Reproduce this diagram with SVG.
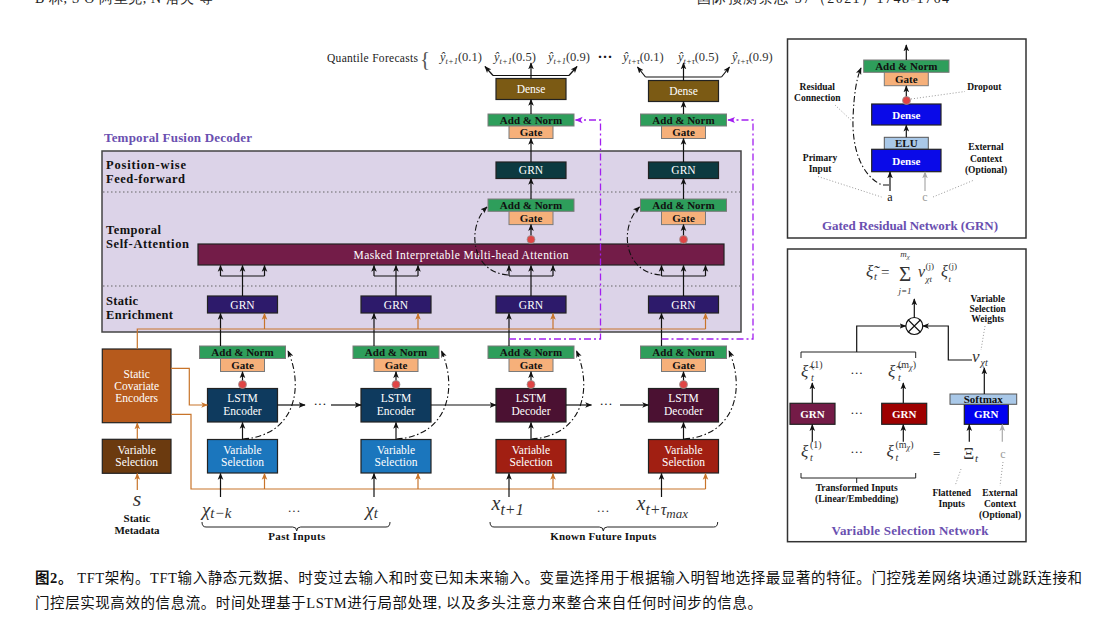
<svg xmlns="http://www.w3.org/2000/svg" width="1098" height="633" viewBox="0 0 1098 633">
<defs>
<style>
text{font-family:"Liberation Serif","DejaVu Serif",serif}
.m{text-anchor:middle}
.an{fill:#2e9e5b;stroke:#7a7a7a;stroke-width:1}
.gt{fill:#f6b07a;stroke:#7a7a7a;stroke-width:1}
.lb{font-size:11px;font-weight:bold;fill:#111;text-anchor:middle}
.wl{font-size:11.5px;fill:#fff;text-anchor:middle}
.wb{font-size:11px;font-weight:bold;fill:#fff;text-anchor:middle}
.bx{stroke:#222;stroke-width:1.2}
.ln{fill:none;stroke:#111;stroke-width:1.2}
.ar{marker-end:url(#ah)}
.or{fill:none;stroke:#c8742a;stroke-width:1.2}
.ao{marker-end:url(#ao)}
.dd{fill:none;stroke:#111;stroke-width:1.1;stroke-dasharray:6 2.5 1.5 2.5;marker-end:url(#ah)}
.pp{fill:none;stroke:#a31ff0;stroke-width:1.3;stroke-dasharray:7 3 2 3;marker-end:url(#ap)}
.dot{fill:#e04545;stroke:#999;stroke-width:0.8}
.sep{stroke:#666;stroke-width:1;stroke-dasharray:1.5 2.5}
.mt{font-style:italic;fill:#333}
.gl{fill:none;stroke:#999;stroke-width:1;stroke-dasharray:1 2}
.sl{font-size:9.5px;font-weight:bold;fill:#111;text-anchor:middle}
.rl{font-size:12.5px;font-weight:bold;fill:#111}
.ttl{font-size:13px;font-weight:bold;fill:#6a4fb0}
.gy{fill:none;stroke:#aaa;stroke-width:1.2;marker-end:url(#ag)}
.q{font-size:12.5px;fill:#333}
.cap{font-family:"Liberation Serif","Noto Sans CJK SC",sans-serif;font-size:14.5px;fill:#111}
</style>
<marker id="ah" viewBox="0 0 10 10" refX="9" refY="5" markerWidth="7" markerHeight="7" orient="auto" markerUnits="userSpaceOnUse"><path d="M0,1 L10,5 L0,9 L2.5,5 z" fill="#111"/></marker>
<marker id="ao" viewBox="0 0 10 10" refX="9" refY="5" markerWidth="7" markerHeight="7" orient="auto" markerUnits="userSpaceOnUse"><path d="M0,1 L10,5 L0,9 L2.5,5 z" fill="#c8742a"/></marker>
<marker id="ap" viewBox="0 0 10 10" refX="9" refY="5" markerWidth="8" markerHeight="8" orient="auto" markerUnits="userSpaceOnUse"><path d="M0,1 L10,5 L0,9 L2.5,5 z" fill="#a31ff0"/></marker>
<marker id="ag" viewBox="0 0 10 10" refX="9" refY="5" markerWidth="7" markerHeight="7" orient="auto" markerUnits="userSpaceOnUse"><path d="M0,1 L10,5 L0,9 L2.5,5 z" fill="#aaa"/></marker>
</defs>
<rect width="1098" height="633" fill="#fff"/>

<g id="header">
<text x="35" y="3" font-family="'Liberation Serif','Noto Sans CJK SC',sans-serif" font-size="14" fill="#222" textLength="178">B 林, S Ö 阿里克, N 洛夫 等</text>
<text x="697" y="3" font-family="'Liberation Serif','Noto Sans CJK SC',sans-serif" font-size="14" fill="#222" textLength="252">国际预测杂志 37（2021）1748-1764</text>
</g>

<g id="tfd-frame">
<text x="104" y="142" class="ttl" textLength="148">Temporal Fusion Decoder</text>
<rect x="102" y="151" width="639" height="181" fill="#dcd3e8" stroke="#444" stroke-width="1.5"/>
<line x1="103" y1="192" x2="740" y2="192" class="sep"/>
<line x1="103" y1="286" x2="740" y2="286" class="sep"/>
<text x="106" y="169" class="rl" textLength="80">Position-wise</text>
<text x="106" y="183" class="rl" textLength="79">Feed-forward</text>
<text x="106" y="234" class="rl" textLength="55">Temporal</text>
<text x="106" y="248" class="rl" textLength="83">Self-Attention</text>
<text x="106" y="305" class="rl" textLength="32">Static</text>
<text x="106" y="319" class="rl" textLength="67">Enrichment</text>
</g>

<g id="quantiles">
<text x="327" y="62" font-size="11.5" fill="#222" textLength="91">Quantile Forecasts</text>
<text x="420" y="66" font-size="21" fill="#555">{</text>
<text x="440" y="61" class="q"><tspan font-style="italic">ŷ</tspan><tspan font-size="8.5" dy="2.5" font-style="italic">t+1</tspan><tspan dy="-2.5">(0.1)</tspan></text>
<text x="494" y="61" class="q"><tspan font-style="italic">ŷ</tspan><tspan font-size="8.5" dy="2.5" font-style="italic">t+1</tspan><tspan dy="-2.5">(0.5)</tspan></text>
<text x="548" y="61" class="q"><tspan font-style="italic">ŷ</tspan><tspan font-size="8.5" dy="2.5" font-style="italic">t+1</tspan><tspan dy="-2.5">(0.9)</tspan></text>
<text x="605" y="62" font-size="15" font-weight="bold" fill="#111" class="m">···</text>
<text x="623" y="61" class="q"><tspan font-style="italic">ŷ</tspan><tspan font-size="8.5" dy="2.5" font-style="italic">t+τ</tspan><tspan dy="-2.5">(0.1)</tspan></text>
<text x="678" y="61" class="q"><tspan font-style="italic">ŷ</tspan><tspan font-size="8.5" dy="2.5" font-style="italic">t+τ</tspan><tspan dy="-2.5">(0.5)</tspan></text>
<text x="732" y="61" class="q"><tspan font-style="italic">ŷ</tspan><tspan font-size="8.5" dy="2.5" font-style="italic">t+τ</tspan><tspan dy="-2.5">(0.9)</tspan></text>
</g>

<g id="dense-1"><rect x="496" y="78.5" width="70" height="21" fill="#7b5a14" class="bx"/><text x="531" y="92.8" class="wl">Dense</text></g>
<g id="dense-2"><rect x="648.5" y="80.5" width="70" height="21" fill="#7b5a14" class="bx"/><text x="683.5" y="94.8" class="wl">Dense</text></g>

<g id="out-addnorm-1"><rect x="488" y="114" width="86" height="12" class="an"/><text x="531" y="123.8" class="lb">Add &amp; Norm</text><rect x="509" y="126" width="44" height="12.5" class="gt"/><text x="531" y="135.8" class="lb">Gate</text></g>
<g id="out-addnorm-2"><rect x="640.5" y="114" width="86" height="12" class="an"/><text x="683.5" y="123.8" class="lb">Add &amp; Norm</text><rect x="661.5" y="126" width="44" height="12.5" class="gt"/><text x="683.5" y="135.8" class="lb">Gate</text></g>

<g id="pw-grn-1"><rect x="496" y="162" width="70" height="16.5" fill="#0c3a40" class="bx"/><text x="531" y="174.2" class="wl">GRN</text></g>
<g id="pw-grn-2"><rect x="648.5" y="162" width="70" height="16.5" fill="#0c3a40" class="bx"/><text x="683.5" y="174.2" class="wl">GRN</text></g>

<g id="att-addnorm-1"><rect x="488" y="199" width="86" height="12.3" class="an"/><text x="531" y="209" class="lb">Add &amp; Norm</text><rect x="509" y="211.3" width="44" height="13.3" class="gt"/><text x="531" y="221.6" class="lb">Gate</text></g>
<g id="att-addnorm-2"><rect x="640.5" y="199" width="86" height="12.3" class="an"/><text x="683.5" y="209" class="lb">Add &amp; Norm</text><rect x="661.5" y="211.3" width="44" height="13.3" class="gt"/><text x="683.5" y="221.6" class="lb">Gate</text></g>

<g id="attention"><rect x="198" y="244" width="526" height="21" fill="#731c48" class="bx"/><text x="461" y="258.5" font-size="11.5" fill="#fff" class="m" textLength="215">Masked Interpretable Multi-head Attention</text></g>

<g id="se-grn-1"><rect x="207.5" y="296" width="70" height="17" fill="#2d1a6b" class="bx"/><text x="242.5" y="308.7" class="wl">GRN</text></g>
<g id="se-grn-2"><rect x="361" y="296" width="70" height="17" fill="#2d1a6b" class="bx"/><text x="396" y="308.7" class="wl">GRN</text></g>
<g id="se-grn-3"><rect x="496" y="296" width="70" height="17" fill="#2d1a6b" class="bx"/><text x="531" y="308.7" class="wl">GRN</text></g>
<g id="se-grn-4"><rect x="648.5" y="296" width="70" height="17" fill="#2d1a6b" class="bx"/><text x="683.5" y="308.7" class="wl">GRN</text></g>

<g id="lstm-addnorm-1"><rect x="199.5" y="346" width="86" height="12.5" class="an"/><text x="242.5" y="356" class="lb">Add &amp; Norm</text><rect x="220.5" y="358.5" width="44" height="13" class="gt"/><text x="242.5" y="368.8" class="lb">Gate</text></g>
<g id="lstm-addnorm-2"><rect x="353" y="346" width="86" height="12.5" class="an"/><text x="396" y="356" class="lb">Add &amp; Norm</text><rect x="374" y="358.5" width="44" height="13" class="gt"/><text x="396" y="368.8" class="lb">Gate</text></g>
<g id="lstm-addnorm-3"><rect x="488" y="346" width="86" height="12.5" class="an"/><text x="531" y="356" class="lb">Add &amp; Norm</text><rect x="509" y="358.5" width="44" height="13" class="gt"/><text x="531" y="368.8" class="lb">Gate</text></g>
<g id="lstm-addnorm-4"><rect x="640.5" y="346" width="86" height="12.5" class="an"/><text x="683.5" y="356" class="lb">Add &amp; Norm</text><rect x="661.5" y="358.5" width="44" height="13" class="gt"/><text x="683.5" y="368.8" class="lb">Gate</text></g>

<g id="lstm-enc-1"><rect x="207.5" y="388.5" width="70" height="33.5" fill="#0e3a5e" class="bx"/><text x="242.5" y="402" class="wl">LSTM</text><text x="242.5" y="414.5" class="wl">Encoder</text></g>
<g id="lstm-enc-2"><rect x="361" y="388.5" width="70" height="33.5" fill="#0e3a5e" class="bx"/><text x="396" y="402" class="wl">LSTM</text><text x="396" y="414.5" class="wl">Encoder</text></g>
<g id="lstm-dec-1"><rect x="496" y="388.5" width="70" height="33.5" fill="#4b1132" class="bx"/><text x="531" y="402" class="wl">LSTM</text><text x="531" y="414.5" class="wl">Decoder</text></g>
<g id="lstm-dec-2"><rect x="648.5" y="388.5" width="70" height="33.5" fill="#4b1132" class="bx"/><text x="683.5" y="402" class="wl">LSTM</text><text x="683.5" y="414.5" class="wl">Decoder</text></g>

<g id="vs-past-1"><rect x="207.5" y="439.5" width="70" height="33.5" fill="#1b76bd" class="bx"/><text x="242.5" y="453.5" class="wl">Variable</text><text x="242.5" y="466" class="wl">Selection</text></g>
<g id="vs-past-2"><rect x="361" y="439.5" width="70" height="33.5" fill="#1b76bd" class="bx"/><text x="396" y="453.5" class="wl">Variable</text><text x="396" y="466" class="wl">Selection</text></g>
<g id="vs-fut-1"><rect x="496" y="439.5" width="70" height="33.5" fill="#a11f12" class="bx"/><text x="531" y="453.5" class="wl">Variable</text><text x="531" y="466" class="wl">Selection</text></g>
<g id="vs-fut-2"><rect x="648.5" y="439.5" width="70" height="33.5" fill="#a11f12" class="bx"/><text x="683.5" y="453.5" class="wl">Variable</text><text x="683.5" y="466" class="wl">Selection</text></g>

<g id="static-encoders"><rect x="102.3" y="349" width="68.7" height="73.7" fill="#b65a1c" class="bx"/><text x="136.7" y="377.5" class="wl">Static</text><text x="136.7" y="389.5" class="wl">Covariate</text><text x="136.7" y="401.5" class="wl">Encoders</text></g>
<g id="static-vs"><rect x="102.3" y="439.3" width="68.7" height="34" fill="#6b3a0f" class="bx"/><text x="136.7" y="453.5" class="wl">Variable</text><text x="136.7" y="466" class="wl">Selection</text></g>
<g id="static-meta"><text x="137" y="506" font-size="22" class="mt m" fill="#111">s</text><text x="137" y="521.5" class="lb">Static</text><text x="137" y="533.5" class="lb">Metadata</text></g>

<g id="past-inputs">
<text x="202" y="516" class="mt" font-size="19" fill="#222">χ<tspan font-size="15" dy="2">t−k</tspan></text>
<text x="294" y="515" font-size="13" class="m" fill="#333">···</text>
<text x="365.5" y="516" class="mt" font-size="19" fill="#222">χ<tspan font-size="15" dy="2">t</tspan></text>
<path d="M202,522 Q202,527 206,527 L292.7,527 Q296.7,527 296.7,531 Q296.7,527 300.7,527 L386,527 Q390,527 390,522" fill="none" stroke="#222" stroke-width="1"/>
<text x="296.7" y="540" class="lb" textLength="57">Past Inputs</text>
</g>
<g id="future-inputs">
<text x="491.5" y="510" class="mt" font-size="20" fill="#222">x<tspan font-size="16" dy="5">t+1</tspan></text>
<text x="603" y="515" font-size="13" class="m" fill="#333">···</text>
<text x="636.5" y="510" class="mt" font-size="20" fill="#222">x<tspan font-size="16" dy="5">t+τ</tspan><tspan font-size="13" dy="3">max</tspan></text>
<path d="M490,522 Q490,527 494,527 L599.3,527 Q603.3,527 603.3,531 Q603.3,527 607.3,527 L713.7,527 Q717.7,527 717.7,522" fill="none" stroke="#222" stroke-width="1"/>
<text x="603.3" y="540" class="lb" textLength="106">Known Future Inputs</text>
</g>

<g id="connectors">
<line x1="531" y1="78.5" x2="531" y2="63" class="ln ar"/>
<polyline points="493,75.5 569,75.5" class="ln"/>
<line x1="493" y1="75.5" x2="485" y2="66.5" class="ln ar"/>
<line x1="569" y1="75.5" x2="577" y2="66.5" class="ln ar"/>
<line x1="683.5" y1="80.5" x2="683.5" y2="63" class="ln ar"/>
<polyline points="645.5,77 721.5,77" class="ln"/>
<line x1="645.5" y1="77" x2="637.5" y2="67" class="ln ar"/>
<line x1="721.5" y1="77" x2="729.5" y2="67" class="ln ar"/>
<line x1="531" y1="114" x2="531" y2="99.5" class="ln ar"/>
<line x1="683.5" y1="114" x2="683.5" y2="101.5" class="ln ar"/>
<line x1="531" y1="162" x2="531" y2="138.5" class="ln ar"/>
<line x1="683.5" y1="162" x2="683.5" y2="138.5" class="ln ar"/>
<line x1="531" y1="199" x2="531" y2="178.5" class="ln ar"/>
<line x1="683.5" y1="199" x2="683.5" y2="178.5" class="ln ar"/>
<line x1="531" y1="244" x2="531" y2="224.6" class="ln ar"/>
<line x1="683.5" y1="244" x2="683.5" y2="224.6" class="ln ar"/>
<circle cx="531" cy="239.5" r="4" class="dot"/>
<circle cx="683.5" cy="239.5" r="4" class="dot"/>
<path d="M508,275 C470,272 467,226 487,207" class="dd"/>
<path d="M660.5,275 C622.5,272 619.5,226 639.5,207" class="dd"/>
<line x1="242.5" y1="296" x2="242.5" y2="265.5" class="ln ar"/><polyline points="220.5,276 264.5,276" class="ln"/><line x1="220.5" y1="276" x2="220.5" y2="265.5" class="ln ar"/><line x1="264.5" y1="276" x2="264.5" y2="265.5" class="ln ar"/>
<line x1="396" y1="296" x2="396" y2="265.5" class="ln ar"/><polyline points="374,276 418,276" class="ln"/><line x1="374" y1="276" x2="374" y2="265.5" class="ln ar"/><line x1="418" y1="276" x2="418" y2="265.5" class="ln ar"/>
<line x1="531" y1="296" x2="531" y2="265.5" class="ln ar"/><polyline points="509,276 553,276" class="ln"/><line x1="509" y1="276" x2="509" y2="265.5" class="ln ar"/><line x1="553" y1="276" x2="553" y2="265.5" class="ln ar"/>
<line x1="683.5" y1="296" x2="683.5" y2="265.5" class="ln ar"/><polyline points="661.5,276 705.5,276" class="ln"/><line x1="661.5" y1="276" x2="661.5" y2="265.5" class="ln ar"/><line x1="705.5" y1="276" x2="705.5" y2="265.5" class="ln ar"/>
<line x1="220.5" y1="346" x2="220.5" y2="313.5" class="ln ar"/>
<line x1="374" y1="346" x2="374" y2="313.5" class="ln ar"/>
<line x1="509" y1="346" x2="509" y2="313.5" class="ln ar"/>
<line x1="661.5" y1="346" x2="661.5" y2="313.5" class="ln ar"/>
<polyline points="137.3,349 137.3,329 705.5,329" class="or"/>
<line x1="264.5" y1="329" x2="264.5" y2="313.5" class="or ao"/>
<line x1="418" y1="329" x2="418" y2="313.5" class="or ao"/>
<line x1="553" y1="329" x2="553" y2="313.5" class="or ao"/>
<line x1="705.5" y1="329" x2="705.5" y2="313.5" class="or ao"/>
<polyline points="171,368.3 189.3,368.3 189.3,405 207.5,405" class="or ao"/>
<polyline points="171,414.3 191,414.3 191,489 705.5,489" class="or"/>
<line x1="264.5" y1="489" x2="264.5" y2="473.5" class="or ao"/>
<line x1="418" y1="489" x2="418" y2="473.5" class="or ao"/>
<line x1="553" y1="489" x2="553" y2="473.5" class="or ao"/>
<line x1="705.5" y1="489" x2="705.5" y2="473.5" class="or ao"/>
<line x1="137.3" y1="439.3" x2="137.3" y2="423" class="or ao"/>
<line x1="137.3" y1="490" x2="137.3" y2="473.5" class="or ao"/>
<line x1="220.5" y1="497" x2="220.5" y2="473.5" class="ln ar"/>
<line x1="374" y1="497" x2="374" y2="473.5" class="ln ar"/>
<line x1="509" y1="497" x2="509" y2="473.5" class="ln ar"/>
<line x1="661.5" y1="497" x2="661.5" y2="473.5" class="ln ar"/>
<line x1="242.5" y1="439.5" x2="242.5" y2="422.5" class="ln ar"/>
<line x1="396" y1="439.5" x2="396" y2="422.5" class="ln ar"/>
<line x1="531" y1="439.5" x2="531" y2="422.5" class="ln ar"/>
<line x1="683.5" y1="439.5" x2="683.5" y2="422.5" class="ln ar"/>
<line x1="242.5" y1="388.5" x2="242.5" y2="371.8" class="ln ar"/>
<line x1="396" y1="388.5" x2="396" y2="371.8" class="ln ar"/>
<line x1="531" y1="388.5" x2="531" y2="371.8" class="ln ar"/>
<line x1="683.5" y1="388.5" x2="683.5" y2="371.8" class="ln ar"/>
<circle cx="242.5" cy="384.5" r="4" class="dot"/>
<circle cx="396" cy="384.5" r="4" class="dot"/>
<circle cx="531" cy="384.5" r="4" class="dot"/>
<circle cx="683.5" cy="384.5" r="4" class="dot"/>
<path d="M243,439 C293,436 305,390 288,351" class="dd"/>
<path d="M396.5,439 C446.5,436 458.5,390 441.5,351" class="dd"/>
<path d="M531.5,439 C581.5,436 593.5,390 576.5,351" class="dd"/>
<path d="M684,439 C734,436 746,390 729,351" class="dd"/>
<line x1="277.5" y1="405" x2="305" y2="405" class="ln ar"/>
<text x="320" y="408" font-size="13" class="m" fill="#111">···</text>
<line x1="331" y1="405" x2="361" y2="405" class="ln ar"/>
<line x1="431" y1="405" x2="496" y2="405" class="ln ar"/>
<line x1="566" y1="405" x2="591.5" y2="405" class="ln ar"/>
<text x="606" y="408" font-size="13" class="m" fill="#111">···</text>
<line x1="620" y1="405" x2="648.5" y2="405" class="ln ar"/>
<polyline points="509,339 600.5,339 600.5,120 575.5,120" class="pp"/>
<polyline points="661.5,339 753,339 753,120 728,120" class="pp"/>
</g>

<g id="grn-panel">
<rect x="787.5" y="39" width="238.5" height="199" fill="#fff" stroke="#333" stroke-width="1.5"/>
<g id="grn-addnorm"><rect x="863.7" y="60" width="85.3" height="12.3" class="an"/><text x="906.3" y="70" class="lb">Add &amp; Norm</text><rect x="884.3" y="72.3" width="44" height="13.4" class="gt"/><text x="906.3" y="82.8" class="lb">Gate</text></g>
<g id="grn-dense2"><rect x="871.7" y="104" width="69.3" height="21" fill="#0a0ae8" class="bx"/><text x="906.3" y="118.5" class="wb">Dense</text></g>
<g id="grn-elu"><rect x="884.3" y="137.3" width="44" height="12" fill="#a9c8e8" stroke="#555" stroke-width="1"/><text x="906.3" y="147.3" class="lb" font-size="10.5">ELU</text></g>
<g id="grn-dense1"><rect x="871.7" y="149.3" width="69.3" height="22.4" fill="#0a0ae8" class="bx"/><text x="906.3" y="164.5" class="wb">Dense</text></g>
<line x1="906.3" y1="60" x2="906.3" y2="45" class="ln ar"/>
<line x1="906.3" y1="104" x2="906.3" y2="86" class="ln ar"/>
<circle cx="906.5" cy="100.5" r="4" class="dot"/>
<line x1="906.3" y1="137.3" x2="906.3" y2="125.3" class="ln ar"/>
<line x1="890" y1="191" x2="890" y2="172" class="ln ar"/>
<line x1="925" y1="191" x2="925" y2="172" class="gy"/>
<path d="M889,185 L882,185 C862,176 852,150 853,118 C854,95 856,80 861,68" class="dd"/>
<text x="890" y="200.5" font-size="12" class="m" fill="#111">a</text>
<text x="925" y="200.5" font-size="12" class="m" fill="#999">c</text>
<text x="817.3" y="90" class="sl">Residual</text>
<text x="817.3" y="101" class="sl">Connection</text>
<text x="984.3" y="90" class="sl">Dropout</text>
<text x="820" y="161" class="sl">Primary</text>
<text x="820" y="172" class="sl">Input</text>
<text x="986" y="150" class="sl">External</text>
<text x="986" y="161.5" class="sl">Context</text>
<text x="986" y="172.5" class="sl">(Optional)</text>
<line x1="835" y1="105" x2="853" y2="122" class="gl"/>
<line x1="911" y1="99" x2="965" y2="91.5" class="gl"/>
<line x1="818" y1="176.5" x2="881.5" y2="197" class="gl"/>
<line x1="933" y1="197" x2="973" y2="180.5" class="gl"/>
<text x="910" y="230" class="ttl m" textLength="176">Gated Residual Network (GRN)</text>
</g>

<g id="vsn-panel">
<rect x="787.5" y="249" width="238.5" height="292.7" fill="#fff" stroke="#333" stroke-width="1.5"/>
<g id="vsn-formula" class="mt">
<text x="866" y="277" font-size="17">ξ̃</text><text x="874" y="280" font-size="10.5">t</text>
<text x="881" y="277" font-size="15" font-style="normal">=</text>
<text x="905" y="281" font-size="21" font-style="normal" font-family="'DejaVu Serif',serif" class="m">Σ</text>
<text x="905" y="257" font-size="9" class="m">m<tspan font-size="7" dy="1.5">χ</tspan></text>
<text x="905" y="294" font-size="9" class="m">j=1</text>
<text x="918" y="277" font-size="16">v</text><text x="925.5" y="269" font-size="9" font-style="normal">(j)</text><text x="925.5" y="282" font-size="9">χt</text>
<text x="941" y="277" font-size="16">ξ</text><text x="948.5" y="269" font-size="9" font-style="normal">(j)</text><text x="948.5" y="282" font-size="9">t</text>
</g>
<g id="vsn-mult"><circle cx="914.3" cy="326" r="8.5" fill="#fff" stroke="#111" stroke-width="1.2"/><path d="M908.3,320 L920.3,332 M920.3,320 L908.3,332" stroke="#111" stroke-width="1.1"/></g>
<line x1="914.3" y1="317.5" x2="914.3" y2="299" class="ln ar"/>
<polyline points="856.7,352 856.7,326 905.8,326" class="ln ar"/>
<polyline points="972,360 948.3,360 948.3,326 922.8,326" class="ln ar"/>
<path d="M801,358 L801,352 L915.7,352 L915.7,358" fill="none" stroke="#222" stroke-width="1"/>
<g class="mt">
<text x="801" y="377" font-size="17">ξ̃</text><text x="811" y="368" font-size="10" font-style="normal">(1)</text><text x="811" y="381" font-size="10">t</text>
<text x="888" y="377" font-size="17">ξ̃</text><text x="898" y="368" font-size="10" font-style="normal">(m<tspan font-style="italic" font-size="8" dy="1.5">χ</tspan><tspan dy="-1.5">)</tspan></text><text x="898" y="381" font-size="10">t</text>
</g>
<text x="856.7" y="377" font-size="13" class="m" fill="#222">···</text>
<line x1="812.3" y1="403.3" x2="812.3" y2="383" class="ln ar"/>
<line x1="903.3" y1="403.3" x2="903.3" y2="383" class="ln ar"/>
<g id="vsn-grn-1"><rect x="790" y="403.3" width="45" height="21" fill="#741b47" class="bx"/><text x="812.5" y="417.5" class="wb" font-size="10.5">GRN</text></g>
<text x="856.7" y="417" font-size="13" class="m" fill="#222">···</text>
<g id="vsn-grn-m"><rect x="881.7" y="403.3" width="45" height="21" fill="#9e0000" class="bx"/><text x="904.2" y="417.5" class="wb" font-size="10.5">GRN</text></g>
<g id="vsn-grn-w"><rect x="964.3" y="404.3" width="44" height="20" fill="#0000f0" class="bx"/><text x="986.3" y="418" class="wb" font-size="10.5">GRN</text><rect x="950" y="394" width="66.7" height="10.3" fill="#a9c8e8" stroke="#555" stroke-width="1"/><text x="983.3" y="402.8" class="lb" font-size="10">Softmax</text></g>
<line x1="984.3" y1="394" x2="984.3" y2="368" class="ln ar"/>
<text x="972" y="362" font-size="17" class="mt">v</text><text x="980.5" y="366" font-size="10" class="mt">χt</text>
<text x="987.7" y="301.7" class="sl">Variable</text>
<text x="987.7" y="311.7" class="sl">Selection</text>
<text x="987.7" y="322.3" class="sl">Weights</text>
<line x1="985" y1="326" x2="981" y2="350" class="gl"/>
<g class="mt">
<text x="801" y="457" font-size="17">ξ</text><text x="810" y="448" font-size="10" font-style="normal">(1)</text><text x="810" y="461" font-size="10">t</text>
<text x="886.5" y="457" font-size="17">ξ</text><text x="895.5" y="448" font-size="10" font-style="normal">(m<tspan font-style="italic" font-size="8" dy="1.5">χ</tspan><tspan dy="-1.5">)</tspan></text><text x="895.5" y="461" font-size="10">t</text>
<text x="963.3" y="459" font-size="17" font-style="normal">Ξ</text><text x="975" y="462" font-size="11">t</text>
</g>
<text x="856.7" y="456" font-size="13" class="m" fill="#222">···</text>
<text x="936.7" y="458" font-size="13" font-weight="bold" class="m" fill="#333">=</text>
<text x="1003" y="458" font-size="12" class="m" fill="#999">c</text>
<line x1="812.3" y1="441.7" x2="812.3" y2="424.6" class="ln ar"/>
<line x1="903.3" y1="441.7" x2="903.3" y2="424.6" class="ln ar"/>
<line x1="969.3" y1="441.7" x2="969.3" y2="424.6" class="ln ar"/>
<line x1="1002.3" y1="441.7" x2="1002.3" y2="424.6" class="gy"/>
<path d="M801,473 L801,478 L915.7,478 L915.7,473 M856.7,478 L856.7,483" fill="none" stroke="#222" stroke-width="1"/>
<text x="856.7" y="491" class="sl">Transformed Inputs</text>
<text x="856.7" y="501.5" class="sl">(Linear/Embedding)</text>
<text x="951.7" y="496" class="sl">Flattened</text>
<text x="951.7" y="507" class="sl">Inputs</text>
<text x="1000" y="496" class="sl">External</text>
<text x="1000" y="507" class="sl">Context</text>
<text x="1000" y="517.5" class="sl">(Optional)</text>
<line x1="961" y1="469" x2="955" y2="486" class="gl"/>
<line x1="1003" y1="462" x2="1000" y2="486" class="gl"/>
<text x="910" y="535" class="ttl m" textLength="157">Variable Selection Network</text>
</g>

<g id="caption">
<text x="35" y="583" class="cap" textLength="1047"><tspan font-weight="bold">图2。</tspan> TFT架构。TFT输入静态元数据、时变过去输入和时变已知未来输入。变量选择用于根据输入明智地选择最显著的特征。门控残差网络块通过跳跃连接和</text>
<text x="35" y="608" class="cap" textLength="727">门控层实现高效的信息流。时间处理基于LSTM进行局部处理, 以及多头注意力来整合来自任何时间步的信息。</text>
</g>
</svg>
